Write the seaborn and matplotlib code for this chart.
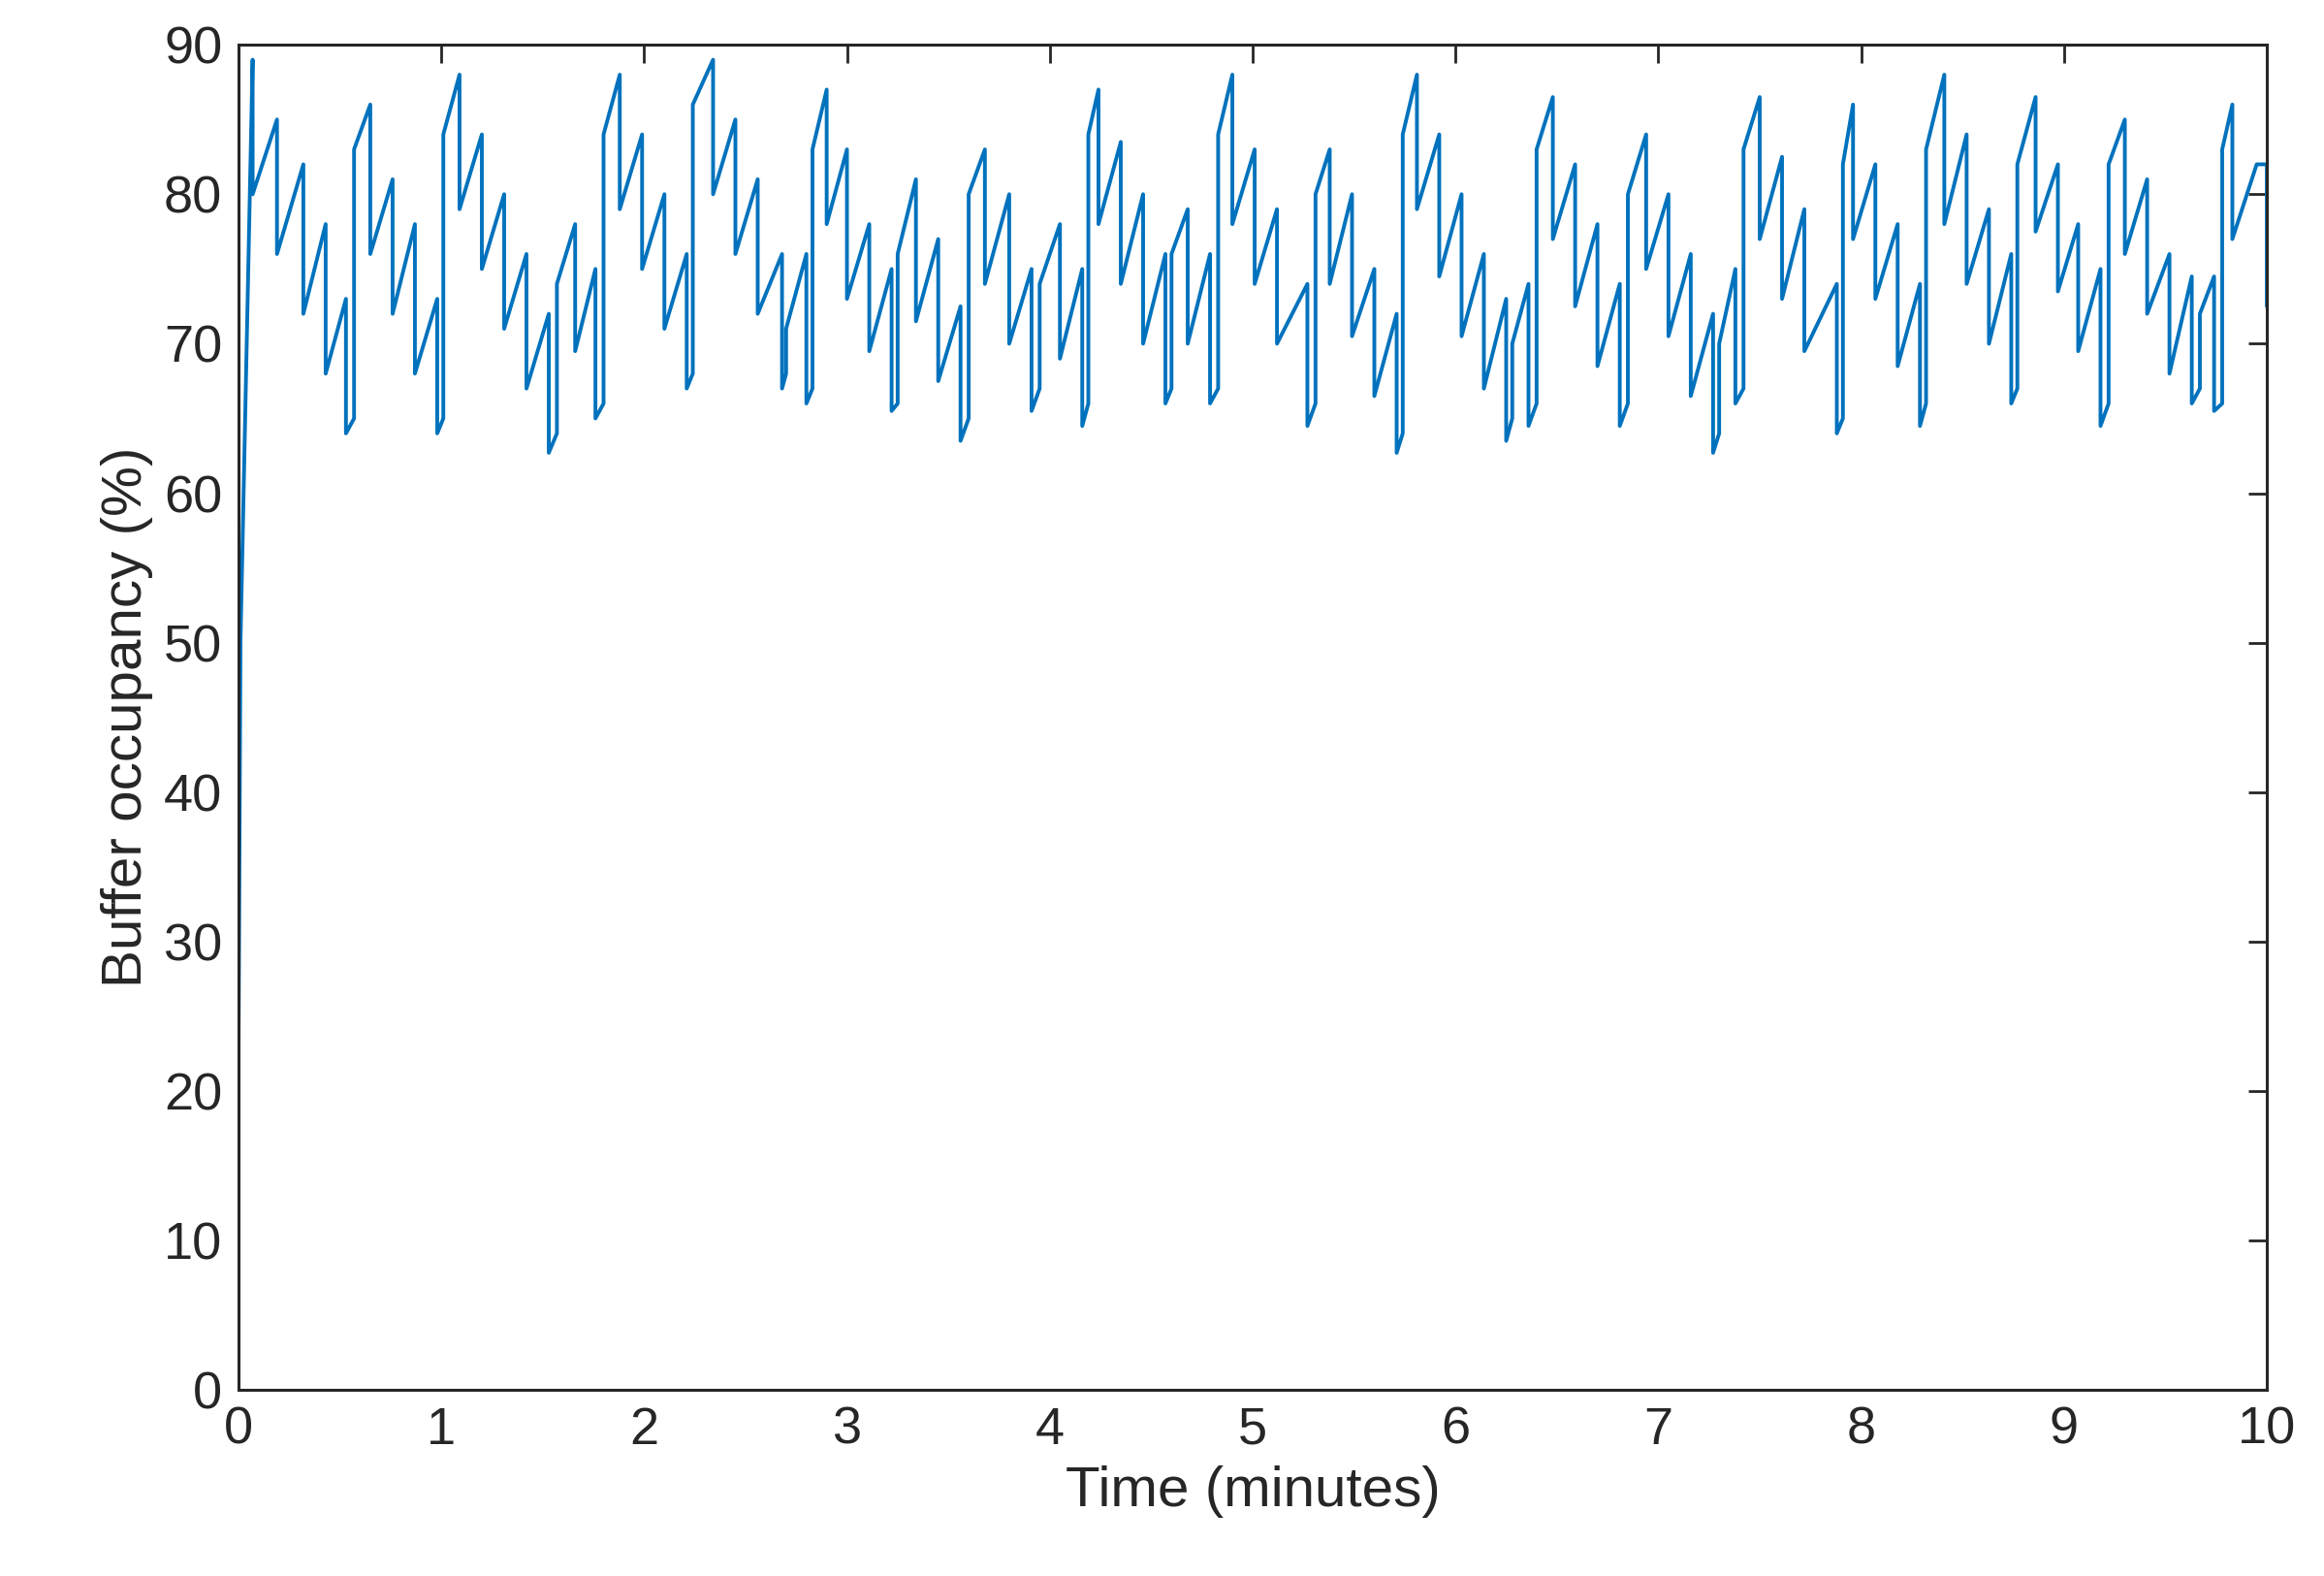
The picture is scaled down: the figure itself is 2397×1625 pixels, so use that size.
import matplotlib
matplotlib.use("Agg")
import matplotlib.pyplot as plt
import numpy as np
import pandas as pd
import seaborn as sns

# Vertices of the sawtooth: at each peak_t the line reaches peak_v, then jumps vertically to after_v
peak_t = [0.0, 0.01, 0.07, 0.19, 0.32, 0.43, 0.53, 0.57, 0.65, 0.76, 0.87, 0.98, 1.01, 1.09, 1.20,
          1.31, 1.42, 1.53, 1.57, 1.66, 1.76, 1.80, 1.88, 1.99, 2.10, 2.21, 2.24, 2.34, 2.45, 2.56,
          2.68, 2.70, 2.80, 2.83, 2.90, 3.00, 3.11, 3.22, 3.25, 3.34, 3.45, 3.56, 3.60, 3.68, 3.80,
          3.91, 3.95, 4.05, 4.16, 4.19, 4.24, 4.35, 4.46, 4.57, 4.60, 4.68, 4.79, 4.83, 4.90, 5.01,
          5.12, 5.27, 5.31, 5.38, 5.49, 5.60, 5.71, 5.74, 5.81, 5.92, 6.03, 6.14, 6.25, 6.28, 6.36,
          6.40, 6.48, 6.59, 6.70, 6.81, 6.85, 6.94, 7.05, 7.16, 7.27, 7.30, 7.38, 7.42, 7.50, 7.61,
          7.72, 7.88, 7.91, 7.96, 8.07, 8.18, 8.29, 8.32, 8.41, 8.52, 8.63, 8.74, 8.77, 8.86, 8.97,
          9.07, 9.18, 9.22, 9.30, 9.41, 9.52, 9.63, 9.67, 9.74, 9.78, 9.83, 9.95, 10.0]
peak_v = [0, 50, 89, 85, 82, 78, 73, 65, 86, 81, 78, 73, 65, 88, 84,
          80, 76, 72, 64, 78, 75, 66, 88, 84, 80, 76, 68, 89, 85, 81,
          76, 68, 76, 67, 87, 83, 78, 75, 66, 81, 77, 72.5, 65, 83, 80,
          75, 67, 78, 75, 66, 87, 83.5, 80, 76, 67, 79, 76, 67, 88, 83,
          79, 74, 66, 83, 80, 75, 72, 64, 88, 84, 80, 76, 73, 65, 74,
          66, 86.5, 82, 78, 74, 66, 84, 80, 76, 72, 64, 75, 67, 86.5, 82.5,
          79, 74, 65, 86, 82, 78, 74, 66, 88, 84, 79, 76, 67, 86.5, 82,
          78, 75, 66, 85, 81, 76, 74.5, 67, 74.5, 66, 86, 82, 82]
after_v = [22, 50, 80, 76, 72, 68, 64, 83, 76, 72, 68, 64, 84, 79, 75,
           71, 67, 62.7, 74, 69.5, 65, 84, 79, 75, 71, 67, 86, 80, 76, 72,
           67, 71, 66, 83, 78, 73, 69.5, 65.5, 76, 71.5, 67.5, 63.5, 80, 74, 70,
           65.5, 74, 69, 64.5, 84, 78, 74, 70, 66, 76, 70, 66, 84, 78, 74,
           70, 64.5, 80, 74, 70.5, 66.5, 62.7, 84, 79, 74.5, 70.5, 67, 63.5, 70, 64.5,
           83, 77, 72.5, 68.5, 64.5, 80, 75, 70.5, 66.5, 62.7, 70, 66, 83, 77, 73,
           69.5, 64, 82, 77, 73, 68.5, 64.5, 83, 78, 74, 70, 66, 82, 77.5, 73.5,
           69.5, 64.5, 82, 76, 72, 68, 66, 72, 65.5, 83, 77, 82, 72.5]

ts, vs = [], []
for t, p, a in zip(peak_t, peak_v, after_v):
    ts += [t, t]
    vs += [p, a]
df = pd.DataFrame({"t": ts, "v": vs})

sns.set_theme(style="white")
plt.rcParams["font.family"] = ["Liberation Sans", "DejaVu Sans"]

fig = plt.figure(figsize=(11.985, 8.125), dpi=200)
ax = fig.add_axes([0.1026, 0.118, 0.8728, 0.8536])
sns.lineplot(data=df, x="t", y="v", ax=ax, sort=False, estimator=None,
             color="#0072BD", linewidth=1.4)
ax.set_xlim(0, 10)
ax.set_ylim(0, 90)
ax.set_xticks(range(0, 11))
ax.set_yticks(range(0, 91, 10))
ax.tick_params(direction="in", top=True, right=True, length=7, width=1,
               labelsize=19.5, colors="#262626", pad=6)
for s in ax.spines.values():
    s.set_color("#262626")
    s.set_linewidth(1.1)
ax.set_xlabel("Time (minutes)", fontsize=21, color="#262626", labelpad=4)
ax.set_ylabel("Buffer occupancy (%)", fontsize=21, color="#262626", labelpad=4)
fig.savefig("out.png", dpi=200)
